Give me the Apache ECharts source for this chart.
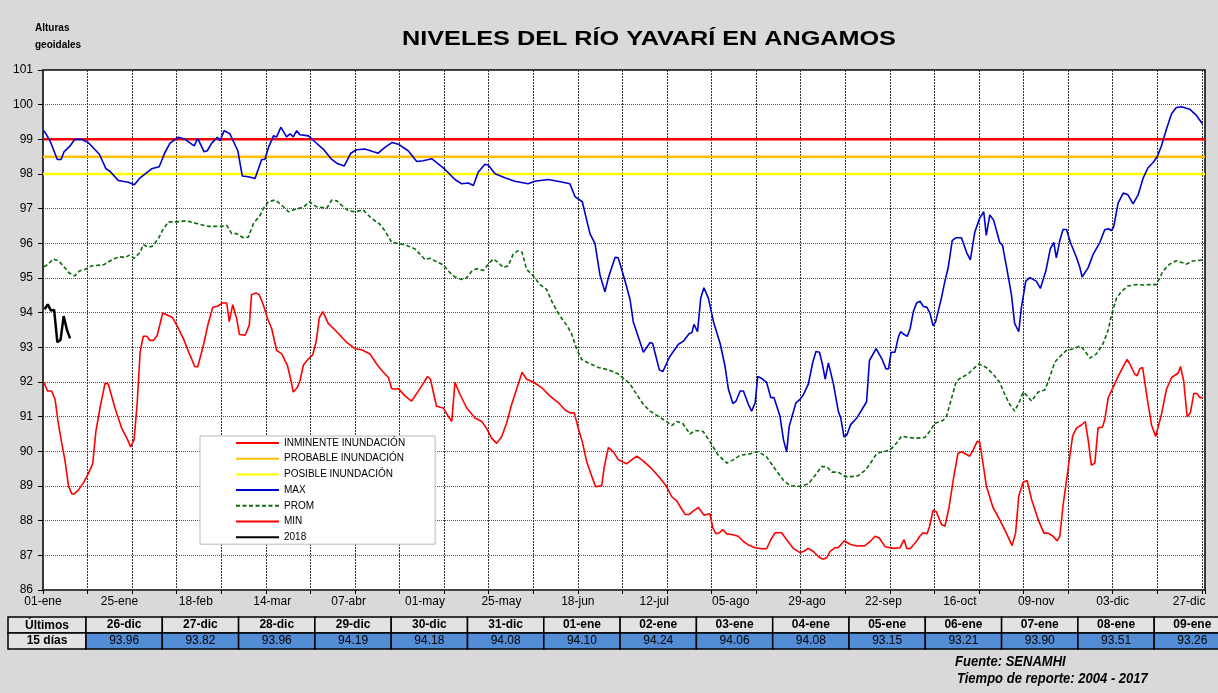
<!DOCTYPE html>
<html>
<head>
<meta charset="utf-8">
<title>Niveles del río Yavarí en Angamos</title>
<script src="https://cdn.jsdelivr.net/npm/echarts@6/dist/echarts.min.js"></script>
<style>
  html, body { margin: 0; padding: 0; background: #d9d9d9; }
  #chart { width: 1218px; height: 693px; }
</style>
</head>
<body>
<div id="chart"></div>
<script>
// etiquetas del eje x (cada 24 días)
var xLabels = ['01-ene', '25-ene', '18-feb', '14-mar', '07-abr', '01-may', '25-may', '18-jun',
  '12-jul', '05-ago', '29-ago', '22-sep', '16-oct', '09-nov', '03-dic', '27-dic']

// umbrales de alerta
var alertNames = ['INMINENTE INUNDACIÓN', 'PROBABLE INUNDACIÓN', 'POSIBLE INUNDACIÓN']
var alertLevels = [99, 98.5, 98]

// tabla de los últimos 15 días
var tableDates = ['26-dic', '27-dic', '28-dic', '29-dic', '30-dic', '31-dic', '01-ene', '02-ene',
  '03-ene', '04-ene', '05-ene', '06-ene', '07-ene', '08-ene', '09-ene']
var tableValues = [93.96, 93.82, 93.96, 94.19, 94.18, 94.08, 94.10, 94.24, 94.06, 94.08, 93.15,
  93.21, 93.90, 93.51, 93.26]

// serie 2018 = valores desde el 01-ene
var level2018 = [94.10, 94.24, 94.06, 94.08, 93.15, 93.21, 93.90, 93.51, 93.26]

// [día del año, nivel]
var maxLevels = [[0.3,99.25],[2.2,98.96],[4.5,98.42],[5.7,98.42],[6.6,98.64],[8.5,98.81],[10,99.0],[12.1,99.0],[14.2,98.91],[17.7,98.57],[19.8,98.15],[21,98.08],[23.7,97.81],[26.8,97.76],[28.7,97.69],[30.5,97.89],[34.1,98.15],[36.5,98.21],[38.3,98.62],[39.9,98.89],[42.5,99.06],[44.6,99.0],[47.5,98.81],[48.6,99.03],[50.6,98.64],[51.6,98.67],[53,98.89],[54.8,99.06],[55.6,98.96],[56.9,99.25],[58.7,99.16],[61.2,98.67],[62.6,97.94],[64.5,97.92],[66.6,97.87],[68.7,98.42],[69.7,98.42],[70.8,98.76],[72.4,99.1],[73.4,99.07],[74.7,99.35],[76.5,99.07],[77.6,99.16],[78.6,99.07],[79.7,99.25],[80.7,99.13],[83.4,99.1],[85.4,98.93],[88,98.72],[90.7,98.42],[92.5,98.3],[94.6,98.23],[96.7,98.6],[98.5,98.7],[101.1,98.72],[105.3,98.6],[107.4,98.77],[109.7,98.91],[111.6,98.86],[114.7,98.67],[117.4,98.36],[119.4,98.38],[122.1,98.44],[126.3,98.13],[129.4,97.84],[131.5,97.72],[133.6,97.74],[135.2,97.67],[136.7,98.05],[138.8,98.28],[139.9,98.25],[142,98.01],[145.1,97.89],[148.2,97.79],[152.4,97.72],[154.5,97.79],[158.7,97.84],[162.9,97.77],[165.5,97.72],[167.1,97.35],[169.4,97.2],[171.8,96.28],[173.4,95.99],[174.9,95.11],[176.5,94.6],[177.6,95.01],[179.7,95.6],[180.7,95.58],[182.8,94.92],[184.4,94.38],[185.4,93.74],[188.6,92.86],[190.7,93.14],[191.5,93.11],[193.6,92.35],[194.7,92.3],[196.8,92.72],[199.6,93.09],[201.2,93.18],[203,93.4],[203.8,93.42],[204.5,93.66],[205.6,93.45],[206.6,94.42],[207.6,94.72],[209,94.42],[210.6,93.74],[212.7,93.11],[214.2,92.47],[215.3,91.79],[216.7,91.38],[217.7,91.45],[219,91.74],[220,91.74],[221.6,91.35],[222.6,91.16],[223.7,91.4],[224.5,92.16],[225.8,92.1],[227.3,91.99],[228.6,91.55],[229.6,91.55],[231.5,91.01],[232.6,90.33],[233.6,89.99],[234.4,90.72],[236.5,91.4],[237.8,91.5],[238.9,91.64],[240.4,91.94],[241.8,92.57],[242.8,92.88],[243.9,92.86],[244.8,92.52],[245.7,92.08],[246.7,92.55],[248.3,91.94],[249.8,91.16],[250.6,90.96],[251.6,90.42],[252.5,90.47],[253.7,90.77],[255.6,90.96],[257.2,91.2],[258.7,91.43],[259.6,92.62],[261.7,92.96],[263.5,92.67],[264.8,92.38],[265.6,92.38],[266.4,92.86],[267.6,92.86],[268.7,93.3],[269.4,93.45],[270.5,93.37],[271.5,93.32],[272.4,93.55],[273.4,94.03],[274.4,94.28],[275.5,94.33],[276.5,94.18],[277.6,94.16],[278.6,93.99],[279.6,93.62],[280.4,93.74],[282.2,94.42],[283.3,94.91],[284.3,95.28],[285.6,96.08],[286.7,96.16],[288.5,96.16],[290.1,95.74],[291.3,95.52],[292.7,96.33],[294.2,96.72],[295.5,96.91],[296.3,96.23],[297.4,96.82],[298.6,96.67],[300.5,96.03],[301.4,95.94],[302.8,95.25],[304.2,94.52],[305.2,93.69],[306.5,93.45],[307.3,94.13],[308.7,94.91],[310,95.01],[312,94.91],[313.3,94.7],[315,95.2],[316.4,95.84],[317.5,96.03],[318.3,95.58],[319.4,96.08],[320.4,96.4],[321.5,96.4],[322.7,96.03],[324.6,95.6],[325.7,95.3],[326.4,95.03],[328.3,95.3],[329.9,95.69],[332,96.03],[333.5,96.39],[334.6,96.42],[335.6,96.37],[336.3,96.47],[337.7,97.16],[339.3,97.45],[340.8,97.4],[342.4,97.14],[344,97.4],[345.6,97.89],[347.1,98.18],[348.7,98.33],[350,98.5],[351.3,98.81],[352.9,99.3],[354.5,99.74],[356,99.92],[357.6,99.94],[360.2,99.87],[362.3,99.69],[364.2,99.45]]

var promLevels = [[0.3,95.32],[1.7,95.4],[3.2,95.55],[4.8,95.5],[6.4,95.35],[8,95.16],[10,95.06],[11.4,95.2],[13.2,95.25],[15.3,95.35],[19,95.38],[22.1,95.55],[24.2,95.61],[25.8,95.59],[27.1,95.66],[28.7,95.57],[30.5,95.74],[31.5,95.96],[33.1,95.89],[34.4,95.92],[36.2,96.13],[37.6,96.38],[39.4,96.62],[42,96.62],[45.1,96.65],[48.3,96.57],[51.9,96.49],[56.1,96.49],[57.7,96.52],[59.3,96.28],[60.8,96.28],[62.9,96.16],[64.5,96.18],[66.1,96.57],[68.2,96.81],[69.2,97.0],[70.8,97.2],[72.9,97.25],[75,97.1],[77.1,96.91],[79.2,96.98],[81.8,97.04],[83.7,97.2],[85.8,97.06],[89.1,97.01],[90.7,97.25],[92.2,97.23],[94.3,97.06],[95.9,96.94],[98,96.91],[100.6,96.96],[103.2,96.72],[105.8,96.55],[107.4,96.36],[109.5,96.03],[112.1,95.99],[114.2,95.94],[116.8,95.84],[118.4,95.69],[120,95.53],[121.5,95.57],[123.6,95.47],[125.7,95.38],[127.8,95.16],[129.4,95.03],[131.5,94.96],[133.1,95.01],[134.6,95.19],[136.2,95.27],[138.3,95.22],[139.9,95.4],[141.4,95.55],[143,95.45],[144.6,95.3],[146.1,95.35],[147.7,95.69],[149.3,95.79],[150.5,95.74],[151.9,95.25],[154,95.06],[156.1,94.81],[158.2,94.67],[159.8,94.33],[161.9,93.97],[164.5,93.64],[166,93.4],[167.6,92.96],[169.2,92.65],[171.3,92.55],[174.4,92.42],[177.6,92.35],[180.7,92.23],[183.3,92.03],[184.4,91.94],[186.5,91.64],[188.6,91.35],[190.7,91.16],[193.3,91.01],[195.9,90.86],[197.5,90.74],[199.1,90.86],[200.9,90.81],[203.2,90.5],[204.8,90.6],[207.4,90.57],[209.5,90.28],[212.1,89.89],[214.8,89.66],[216.9,89.76],[219,89.89],[221.6,89.92],[224.7,89.99],[227.3,89.84],[229.9,89.5],[232.6,89.16],[234.7,89.01],[237.8,88.99],[240.4,89.06],[242.5,89.3],[244.6,89.56],[246.2,89.56],[247.8,89.4],[249.8,89.4],[251.9,89.27],[254,89.27],[256.1,89.3],[258.2,89.45],[259.8,89.64],[261.9,89.94],[264,89.99],[266.1,90.04],[268.2,90.25],[269.7,90.44],[271.8,90.4],[274.5,90.38],[277,90.4],[278.5,90.57],[280.1,90.81],[282.7,90.89],[283.8,91.01],[285.3,91.5],[286.9,92.03],[288.5,92.13],[290.6,92.23],[292.2,92.38],[294,92.52],[296.3,92.42],[298.4,92.23],[300.5,91.99],[302.1,91.64],[303.7,91.35],[305.2,91.16],[306.8,91.45],[307.9,91.71],[309.1,91.6],[310.5,91.45],[312.6,91.71],[314.7,91.77],[316.2,92.13],[317.8,92.57],[319.9,92.78],[321.5,92.91],[323.6,92.96],[325.7,93.04],[327.2,92.91],[328.8,92.69],[330.9,92.81],[333,93.11],[334.6,93.5],[335.6,93.92],[337.2,94.42],[338.8,94.62],[340.8,94.77],[343.5,94.81],[345.6,94.8],[347.6,94.81],[349.7,94.81],[351.8,95.2],[353.9,95.4],[356,95.5],[357.6,95.45],[359.2,95.4],[360.7,95.48],[362.3,95.5],[364.2,95.52]]

var minLevels = [[0.3,91.99],[1.4,91.74],[2.7,91.74],[3.8,91.5],[4.8,90.81],[5.9,90.23],[6.9,89.74],[8,89.01],[9,88.78],[9.8,88.77],[11.1,88.88],[12.7,89.09],[14.2,89.35],[15.6,89.64],[16.6,90.57],[17.9,91.25],[19.5,91.97],[20.5,91.94],[22.6,91.25],[24.7,90.67],[26.5,90.35],[27.5,90.13],[28.6,90.33],[29.6,91.4],[30.5,92.86],[31.5,93.32],[32.6,93.32],[33.6,93.2],[34.7,93.2],[35.9,93.35],[37.6,93.99],[38.8,93.94],[40.7,93.86],[42,93.64],[44.1,93.25],[46,92.81],[47.7,92.44],[48.6,92.44],[50.4,93.06],[51.9,93.69],[53.3,94.15],[55.1,94.2],[56.4,94.28],[57.7,94.28],[58.5,93.74],[59.6,94.23],[60.8,93.84],[61.7,93.37],[63.5,93.35],[64.8,93.64],[65.5,94.52],[66.9,94.57],[67.9,94.52],[69.2,94.23],[70.5,93.84],[71.8,93.55],[73.4,92.91],[75,92.81],[76.8,92.47],[77.8,92.08],[78.6,91.71],[79.9,91.84],[80.7,92.03],[81.8,92.49],[83.4,92.67],[84.7,92.78],[85.8,93.16],[86.8,93.86],[87.9,94.03],[89.6,93.69],[91.7,93.5],[93.3,93.35],[95.4,93.14],[98,92.96],[100.1,92.93],[102.7,92.81],[104.8,92.52],[106.4,92.33],[108.5,92.13],[109.5,91.81],[110.5,91.79],[111.6,91.81],[113.7,91.6],[115.8,91.45],[118.4,91.81],[120.8,92.16],[121.7,92.08],[123.6,91.3],[125.7,91.25],[127.3,91.01],[128.4,90.86],[129.4,91.99],[131,91.64],[133.1,91.25],[135.7,90.96],[137.8,90.86],[139.3,90.67],[140.9,90.38],[142.5,90.23],[144.1,90.43],[145.6,90.81],[147.2,91.35],[149.1,91.89],[150.5,92.28],[151.9,92.08],[154,92.0],[156.6,91.84],[159.2,91.6],[161.9,91.4],[163.9,91.2],[165.5,91.11],[166.9,91.11],[168.1,90.67],[169.4,90.28],[170.8,89.69],[172.3,89.3],[173.6,88.98],[175.5,89.01],[176.3,89.55],[177.6,90.11],[179.1,89.99],[180.7,89.76],[183.3,89.64],[184.4,89.72],[186.5,89.86],[188.6,89.72],[191.2,89.5],[193.8,89.23],[195.7,89.01],[197.5,88.69],[199.1,88.57],[200.3,88.38],[201.7,88.18],[203,88.18],[204.3,88.28],[205.9,88.38],[207.6,88.16],[209.5,88.2],[210.4,87.79],[211.4,87.62],[212.5,87.65],[213.5,87.74],[214.8,87.62],[216.3,87.6],[218.4,87.55],[220,87.4],[221.6,87.3],[223.7,87.22],[225.8,87.19],[227.3,87.19],[228.6,87.45],[230,87.65],[232,87.65],[233.6,87.45],[235.7,87.2],[237.8,87.08],[238.9,87.11],[240.4,87.2],[242,87.11],[243.6,86.96],[244.9,86.89],[246.2,86.93],[247.2,87.11],[248.8,87.22],[249.8,87.22],[251.7,87.42],[253.5,87.32],[255.6,87.27],[258.2,87.28],[259.8,87.4],[261.4,87.55],[262.7,87.5],[264.5,87.25],[267.1,87.2],[269.2,87.22],[270.5,87.45],[271.3,87.2],[272.4,87.19],[274.5,87.42],[275.4,87.55],[276.4,87.65],[277.7,87.62],[278.5,87.84],[279.6,88.3],[280.6,88.26],[282.2,87.89],[283.3,87.84],[284.6,88.38],[285.9,89.16],[287.4,89.94],[288.5,89.99],[291.1,89.86],[292.2,90.04],[293.4,90.28],[294.2,90.28],[295.3,89.64],[296.3,89.01],[298.4,88.38],[300.5,88.03],[302.6,87.64],[304.4,87.28],[305.5,87.64],[306.5,88.71],[307.9,89.11],[309.1,89.16],[310.5,88.62],[312.6,88.03],[314.4,87.64],[315.7,87.64],[317.3,87.55],[318.5,87.42],[319.4,87.55],[320.4,88.43],[322,89.5],[323.4,90.43],[324.6,90.67],[326.2,90.76],[327.4,90.86],[328.3,90.33],[329.3,89.6],[330.4,89.66],[331.4,90.67],[332.8,90.7],[333.5,90.91],[334.6,91.55],[336.1,91.84],[337.7,92.16],[339.3,92.44],[340.5,92.65],[341.4,92.52],[342.9,92.23],[343.7,92.18],[344.5,92.38],[345.4,92.42],[346.8,91.55],[348.2,90.76],[349.5,90.43],[351.3,91.06],[352.9,91.79],[354.5,92.13],[356.6,92.26],[357.3,92.45],[358.3,92.03],[359.4,90.99],[360.4,91.11],[361.5,91.67],[362.5,91.67],[363.4,91.55],[364.4,91.55]]

var FONT = '"Liberation Sans", Arial, sans-serif'
var X_MAX = 365

var chart = echarts.init(document.getElementById('chart'), null, { renderer: 'canvas' })

// líneas de alerta horizontales
var alertColors = ['#ff0000', '#ffc000', '#ffff00']
var alertSeries = alertNames.map(function (name, i) {
  return {
    name: name,
    type: 'line',
    data: [[0, alertLevels[i]], [X_MAX, alertLevels[i]]],
    symbol: 'none',
    lineStyle: { color: alertColors[i], width: 2.5 },
    itemStyle: { color: alertColors[i] },
    silent: true,
    z: 2
  }
})

// tabla inferior
var tableGraphics = []
var colX = 86
var colW = 76.3
var rowY = [617, 633]
var rowH = 16
tableGraphics.push({ type: 'rect', shape: { x: 8, y: rowY[0], width: colX - 8, height: rowH },
  style: { fill: '#e2e2e2', stroke: '#000', lineWidth: 1.5 } })
tableGraphics.push({ type: 'rect', shape: { x: 8, y: rowY[1], width: colX - 8, height: rowH },
  style: { fill: '#e2e2e2', stroke: '#000', lineWidth: 1.5 } })
tableGraphics.push({ type: 'text', x: (8 + colX) / 2, y: rowY[0] + rowH / 2 + 0.5,
  style: { text: 'Últimos', font: 'bold 12px ' + FONT, fill: '#000', align: 'center', verticalAlign: 'middle' } })
tableGraphics.push({ type: 'text', x: (8 + colX) / 2, y: rowY[1] + rowH / 2,
  style: { text: '15 días', font: 'bold 12px ' + FONT, fill: '#000', align: 'center', verticalAlign: 'middle' } })
tableDates.forEach(function (d, i) {
  var x = colX + i * colW
  tableGraphics.push({ type: 'rect', shape: { x: x, y: rowY[0], width: colW, height: rowH },
    style: { fill: '#e2e2e2', stroke: '#000', lineWidth: 1.5 } })
  tableGraphics.push({ type: 'rect', shape: { x: x, y: rowY[1], width: colW, height: rowH },
    style: { fill: '#538dd5', stroke: '#000', lineWidth: 1.5 } })
  tableGraphics.push({ type: 'text', x: x + colW / 2, y: rowY[0] + rowH / 2,
    style: { text: d, font: 'bold 12px ' + FONT, fill: '#000', align: 'center', verticalAlign: 'middle' } })
  tableGraphics.push({ type: 'text', x: x + colW / 2, y: rowY[1] + rowH / 2,
    style: { text: tableValues[i].toFixed(2), font: '12px ' + FONT, fill: '#000', align: 'center', verticalAlign: 'middle' } })
})

var option = {
  backgroundColor: '#d9d9d9',
  animation: false,
  textStyle: { fontFamily: FONT },
  grid: {
    left: 43,
    top: 70,
    width: 1162,
    height: 520,
    show: true,
    backgroundColor: '#ffffff',
    borderColor: '#000',
    borderWidth: 1.5
  },
  legend: {
    orient: 'vertical',
    left: 200,
    top: 436,
    padding: [2, 30, 2, 35],
    itemWidth: 43,
    itemHeight: 10,
    itemGap: 5.7,
    backgroundColor: '#ffffff',
    borderColor: '#b8b8b8',
    borderWidth: 1,
    itemStyle: { opacity: 0, borderWidth: 0 },
    textStyle: { fontSize: 10, color: '#000', fontFamily: FONT },
    data: alertNames.concat(['MAX', 'PROM', 'MIN', '2018'])
  },
  xAxis: [
    {
      type: 'value',
      min: 0,
      max: X_MAX,
      interval: 14,
      axisLine: { show: false },
      axisTick: { show: true, length: 4, lineStyle: { color: '#000' } },
      axisLabel: { show: false },
      splitLine: { show: true, lineStyle: { color: '#333', type: [2, 1], width: 1 } }
    },
    {
      type: 'value',
      min: 0,
      max: X_MAX,
      interval: 24,
      position: 'bottom',
      axisLine: { show: false },
      axisTick: { show: false },
      splitLine: { show: false },
      axisLabel: {
        margin: 6,
        fontSize: 12,
        color: '#000',
        showMaxLabel: false,
        formatter: function (v) {
          var k = v / 24
          return Number.isInteger(k) && xLabels[k] ? xLabels[k] : ''
        }
      }
    }
  ],
  yAxis: {
    type: 'value',
    min: 86,
    max: 101,
    interval: 1,
    axisLine: { show: false },
    axisTick: { show: true, length: 5, lineStyle: { color: '#000' } },
    axisLabel: { fontSize: 12, color: '#000', margin: 10 },
    splitLine: { show: true, lineStyle: { color: '#555', type: [1, 1], width: 1 } }
  },
  series: alertSeries.concat([
    {
      name: 'MAX',
      type: 'line',
      data: maxLevels,
      symbol: 'none',
      lineStyle: { color: '#0000cc', width: 1.6 },
      itemStyle: { color: '#0000cc' },
      z: 3
    },
    {
      name: 'PROM',
      type: 'line',
      data: promLevels,
      symbol: 'none',
      lineStyle: { color: '#0b6b0b', width: 1.6, type: [4, 2.5] },
      itemStyle: { color: '#0b6b0b' },
      z: 3
    },
    {
      name: 'MIN',
      type: 'line',
      data: minLevels,
      symbol: 'none',
      lineStyle: { color: '#ff0000', width: 1.6 },
      itemStyle: { color: '#ff0000' },
      z: 3
    },
    {
      name: '2018',
      type: 'line',
      data: level2018.map(function (v, i) { return [i + 0.5, v] }),
      symbol: 'none',
      lineStyle: { color: '#000', width: 2.5 },
      itemStyle: { color: '#000' },
      z: 4
    }
  ]),
  graphic: [
    { type: 'text', x: 649, y: 39, scaleX: 1.2,
      style: { text: 'NIVELES DEL RÍO YAVARÍ EN ANGAMOS', font: 'bold 21px ' + FONT, fill: '#000',
        align: 'center', verticalAlign: 'middle' } },
    { type: 'text', x: 35, y: 28,
      style: { text: 'Alturas', font: 'bold 10px ' + FONT, fill: '#000', align: 'left', verticalAlign: 'middle' } },
    { type: 'text', x: 35, y: 45,
      style: { text: 'geoidales', font: 'bold 10px ' + FONT, fill: '#000', align: 'left', verticalAlign: 'middle' } },
    { type: 'text', x: 955, y: 662, scaleX: 0.93,
      style: { text: 'Fuente: SENAMHI', font: 'italic bold 14px ' + FONT, fill: '#000', align: 'left', verticalAlign: 'middle' } },
    { type: 'text', x: 957, y: 679, scaleX: 0.93,
      style: { text: 'Tiempo de reporte: 2004 - 2017', font: 'italic bold 14px ' + FONT, fill: '#000', align: 'left', verticalAlign: 'middle' } }
  ].concat(tableGraphics)
}

chart.setOption(option)
</script>
</body>
</html>
